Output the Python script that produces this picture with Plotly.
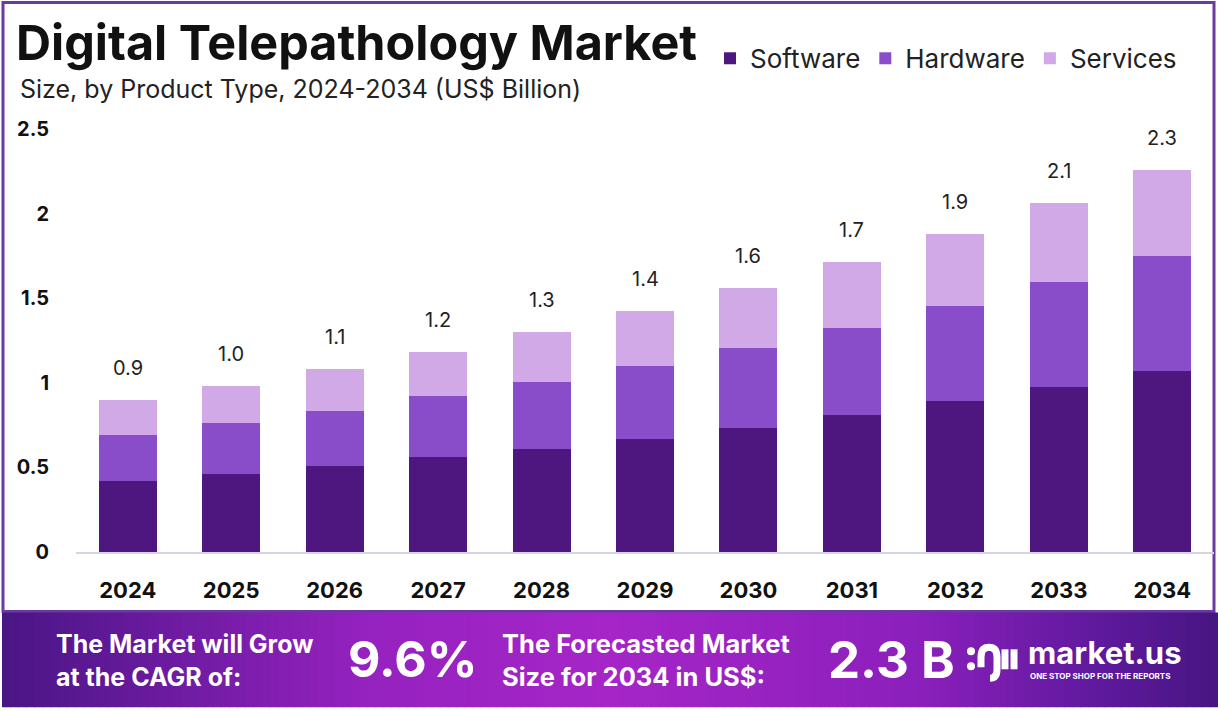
import plotly.graph_objects as go

# Data (US$ Billion)
years = ["2024", "2025", "2026", "2027", "2028", "2029", "2030", "2031", "2032", "2033", "2034"]
software = [0.42, 0.46, 0.51, 0.56, 0.61, 0.67, 0.735, 0.81, 0.89, 0.975, 1.07]
hardware = [0.27, 0.30, 0.325, 0.36, 0.395, 0.43, 0.47, 0.515, 0.565, 0.62, 0.68]
services = [0.21, 0.22, 0.248, 0.265, 0.295, 0.325, 0.355, 0.39, 0.425, 0.465, 0.505]
y_ticks = [0, 0.5, 1, 1.5, 2, 2.5]
cagr = "9.6%"
size_2034 = "2.3 B"

totals = [round(a + b + c, 3) for a, b, c in zip(software, hardware, services)]

W, H = 1218, 711
L, R, T, B = 76, 4, 128.75, 158.5
PW, PH = W - L - R, H - T - B


# helpers: pixel -> paper coordinates
def px(x):
    return (x - L) / PW


def py(y):
    return (H - B - y) / PH


FONT = "Inter, 'Open Sans', sans-serif"
colors = {"Software": "#4e167f", "Hardware": "#8a4dc9", "Services": "#d0a9e6"}

fig = go.Figure()
for name, vals in [("Software", software), ("Hardware", hardware), ("Services", services)]:
    fig.add_trace(go.Bar(x=years, y=vals, name=name, marker_color=colors[name],
                         marker_line_width=0, width=0.56))

# total labels above bars (x as category index)
for i, tot in enumerate(totals):
    fig.add_annotation(x=i, y=tot, text=f"{tot:.1f}", showarrow=False,
                       yanchor="bottom", yshift=18,
                       font=dict(family=FONT, size=20, color="#222222"))

shapes = []
# frame border
shapes.append(dict(type="rect", xref="paper", yref="paper", x0=px(3), x1=px(1214),
                   y0=py(612), y1=py(2), line=dict(color="#6a3aa0", width=3), layer="below"))

# bottom banner gradient (strips)
stops = [(0.0, (74, 22, 134)), (0.3, (150, 34, 192)), (0.5, (166, 38, 200)),
         (0.75, (140, 32, 188)), (0.9, (95, 26, 158)), (1.0, (72, 22, 130))]


def grad(t):
    for (t0, c0), (t1, c1) in zip(stops[:-1], stops[1:]):
        if t0 <= t <= t1:
            f = (t - t0) / (t1 - t0)
            return "rgb(%d,%d,%d)" % tuple(int(c0[i] + f * (c1[i] - c0[i])) for i in range(3))
    return "rgb(72,22,130)"


n = 150
x_start, x_end = 2, W
for i in range(n):
    xa = x_start + (x_end - x_start) * i / n
    xb = x_start + (x_end - x_start) * (i + 1) / n + 0.8
    shapes.append(dict(type="rect", xref="paper", yref="paper", x0=px(xa), x1=px(xb),
                       y0=py(708), y1=py(613), fillcolor=grad((i + 0.5) / n),
                       line_width=0, layer="above"))

# logo icon (rough)
logo_paths = [
    f"M{px(981)},{py(668)} L{px(981)},{py(658)} Q{px(981)},{py(648)} {px(989)},{py(648)} "
    f"Q{px(997)},{py(648)} {px(997)},{py(658)} L{px(997)},{py(670)} Q{px(997)},{py(679)} {px(990)},{py(679)}",
    f"M{px(1005)},{py(650)} L{px(1005)},{py(670)}",
    f"M{px(1014)},{py(650)} L{px(1014)},{py(670)}",
]
for p in logo_paths:
    shapes.append(dict(type="path", xref="paper", yref="paper", path=p,
                       line=dict(color="white", width=7), layer="above"))
for cy in (652, 667):
    shapes.append(dict(type="circle", xref="paper", yref="paper", x0=px(967), x1=px(975),
                       y0=py(cy + 4), y1=py(cy - 4), fillcolor="white", line_width=0, layer="above"))

banner_txt = [
    (54, 661, "The Market will Grow<br>at the CAGR of:", 25),
    (346, 660, cagr, 50),
    (500, 661, "The Forecasted Market<br>Size for 2034 in US$:", 25.5),
    (826, 660, size_2034, 51),
]
for x, y, txt, sz in banner_txt:
    fig.add_annotation(xref="paper", yref="paper", x=px(x), y=py(y), text=f"<b>{txt}</b>",
                       showarrow=False, xanchor="left", yanchor="middle", align="left",
                       font=dict(family=FONT, size=sz, color="white"))
fig.add_annotation(xref="paper", yref="paper", x=px(1027), y=py(653), text="<b>market.us</b>",
                   showarrow=False, xanchor="left", yanchor="middle", borderpad=0,
                   font=dict(family=FONT, size=31, color="white"))
fig.add_annotation(xref="paper", yref="paper", x=px(1029), y=py(677), text="<b>ONE STOP SHOP FOR THE REPORTS</b>",
                   showarrow=False, xanchor="left", yanchor="middle", borderpad=0,
                   font=dict(family=FONT, size=8, color="white"))

# subtitle
fig.add_annotation(xref="paper", yref="paper", x=px(18), y=py(89),
                   text="Size, by Product Type, 2024-2034 (US$ Billion)", showarrow=False,
                   xanchor="left", yanchor="middle", font=dict(family=FONT, size=25, color="#222222"))

fig.update_layout(
    width=W, height=H,
    margin=dict(l=L, r=R, t=T, b=B),
    barmode="stack",
    paper_bgcolor="white",
    plot_bgcolor="white",
    title=dict(text="<b>Digital Telepathology Market</b>", x=16 / W, y=1 - 43 / H,
               xanchor="left", yanchor="middle", xref="container", yref="container",
               pad=dict(l=0, r=0, t=0, b=0),
               font=dict(family=FONT, size=48.5, color="#111111")),
    legend=dict(orientation="h", x=px(1182), y=py(58), xanchor="right", yanchor="middle",
                font=dict(family=FONT, size=26, color="#222222"), traceorder="normal",
                bgcolor="rgba(0,0,0,0)"),
    shapes=shapes,
    font=dict(family=FONT),
)
fig.update_xaxes(type="category", range=[-0.5, len(years) - 0.5], showgrid=False,
                 showline=True, linecolor="#d9d2e2", linewidth=1.5,
                 ticks="", tickfont=dict(family=FONT, size=22, color="#111111", weight="bold"),
                 ticklabelstandoff=18)
fig.update_yaxes(range=[0, 2.5], tickvals=y_ticks, ticktext=[f"{v:g}" for v in y_ticks],
                 showgrid=False, zeroline=False, showline=False, ticks="",
                 tickfont=dict(family=FONT, size=20, color="#111111", weight="bold"),
                 ticklabelstandoff=26)

fig.write_html("out.html", config={"displayModeBar": False},
               post_script="document.body.style.margin='0';")
